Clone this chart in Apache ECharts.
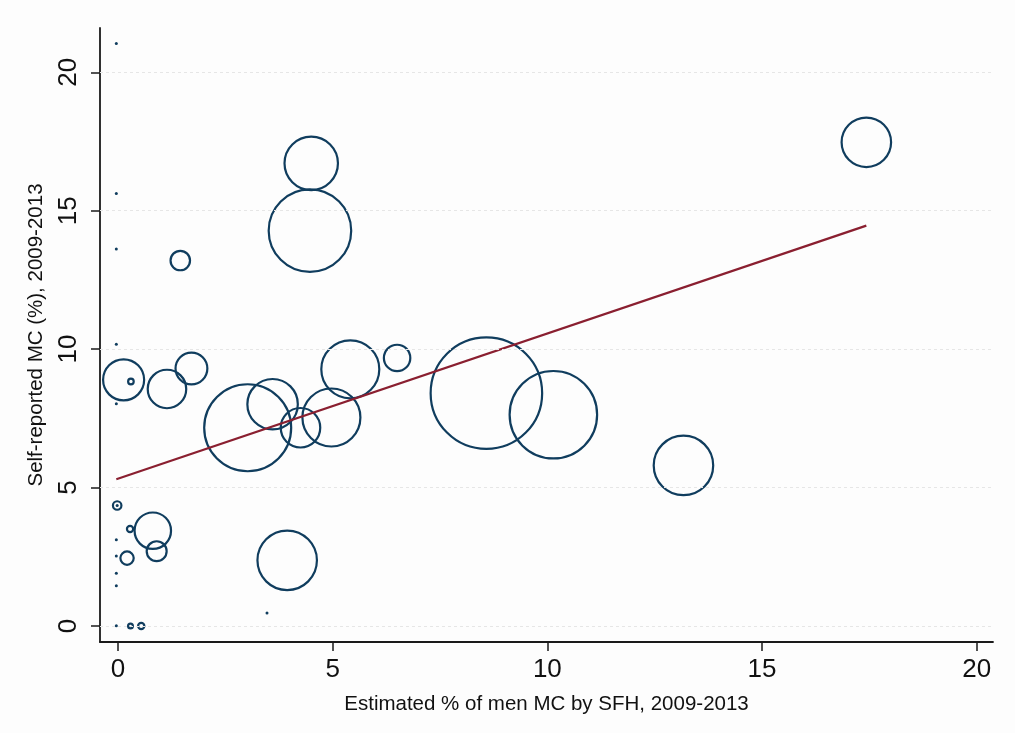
<!DOCTYPE html>
<html>
<head>
<meta charset="utf-8">
<script src="https://cdn.jsdelivr.net/npm/echarts@6/dist/echarts.min.js"></script>
<style>
html,body{margin:0;padding:0;background:#fdfdfd;}
#c{width:1015px;height:733px;}
</style>
</head>
<body>
<div id="c"></div>
<script>
// Bubble data: estimated % MC by SFH (x), self-reported MC % (y), weight
const xValues = [17.43, 13.17, 8.58, 10.14, 6.50, 0.13, 0.30, 1.14, 1.71, 3.02, 3.60, 4.25, 4.97, 5.41, 4.50, 4.47, 1.45, -0.02, 0.28, 0.81, 0.90, 0.21, 3.94, 0.29, 0.54];
const yValues = [17.47, 5.80, 8.41, 7.63, 9.68, 8.89, 8.83, 8.56, 9.30, 7.16, 8.01, 7.16, 7.53, 9.27, 16.71, 14.28, 13.20, 4.35, 3.50, 3.44, 2.70, 2.45, 2.37, 0.00, 0.00];
const weights = [260, 372, 1277, 792, 78, 181, 5, 160, 111, 783, 270, 168, 354, 354, 302, 706, 44, 10, 6, 144, 46, 22, 372, 4, 6];
// Observations with near-zero weight (drawn as dots)
const dotX = [-0.04, -0.04, -0.04, -0.04, -0.04, -0.04, -0.04, -0.04, -0.04, -0.04, -0.02, 3.47];
const dotY = [21.04, 15.62, 13.62, 10.18, 8.03, 3.11, 2.53, 1.90, 1.45, 0.01, 4.35, 0.47];
// Fitted line endpoints
const fitX = [-0.04, 17.43];
const fitY = [5.30, 14.46];
const xTicks = [0, 5, 10, 15, 20];
const yTicks = [0, 5, 10, 15, 20];

const bubbles = xValues.map((x, i) => [x, yValues[i], weights[i]]);
const dots = dotX.map((x, i) => [x, dotY[i]]);
const fit = fitX.map((x, i) => [x, fitY[i]]);

const navy = '#103d5e';
const maroon = '#8a1f30';
const fontFam = '"Liberation Sans", Arial, Helvetica, sans-serif';

const chart = echarts.init(document.getElementById('c'));
chart.setOption({
  backgroundColor: '#fdfdfd',
  animation: false,
  grid: {left: 100, right: 22, top: 28, bottom: 91, containLabel: false},
  xAxis: {
    type: 'value', min: -0.42, max: 20.38,
    name: 'Estimated % of men MC by SFH, 2009-2013',
    nameLocation: 'middle', nameGap: 52,
    nameTextStyle: {fontFamily: fontFam, fontSize: 20.5, color: '#111'},
    axisLine: {show: true, onZero: false, lineStyle: {color: '#1a1a1a', width: 1.8}},
    axisTick: {show: true, length: 9, customValues: xTicks, lineStyle: {color: '#1a1a1a', width: 1.5}},
    axisLabel: {customValues: xTicks, fontFamily: fontFam, fontSize: 26, color: '#111', margin: 15},
    splitLine: {show: false}
  },
  yAxis: {
    type: 'value', min: -0.58, max: 21.6,
    name: 'Self-reported MC (%), 2009-2013',
    nameLocation: 'middle', nameGap: 53,
    nameTextStyle: {fontFamily: fontFam, fontSize: 20.5, color: '#111'},
    axisLine: {show: true, onZero: false, lineStyle: {color: '#1a1a1a', width: 1.8}},
    axisTick: {show: true, length: 9, customValues: yTicks, lineStyle: {color: '#1a1a1a', width: 1.5}},
    axisLabel: {customValues: yTicks, rotate: 90, fontFamily: fontFam, fontSize: 26, color: '#111', margin: 18},
    splitLine: {show: false}
  },
  series: [
    {
      type: 'line', data: [], silent: true,
      markLine: {
        silent: true, symbol: 'none', label: {show: false},
        lineStyle: {color: '#e6e6e6', width: 1, type: [3, 3]},
        data: yTicks.map(v => ({yAxis: v}))
      }
    },
    {
      type: 'scatter', data: bubbles,
      symbol: 'circle',
      symbolSize: d => Math.sqrt(d[2] * 10) - 1.5,
      itemStyle: {color: 'rgba(0,0,0,0)', borderColor: navy, borderWidth: 2.2, opacity: 1}
    },
    {
      type: 'scatter', data: dots, symbol: 'circle', symbolSize: 3,
      itemStyle: {color: navy, opacity: 1}
    },
    {
      type: 'line', data: fit, symbol: 'none',
      lineStyle: {color: maroon, width: 2.2, opacity: 1}
    }
  ]
});
</script>
</body>
</html>
